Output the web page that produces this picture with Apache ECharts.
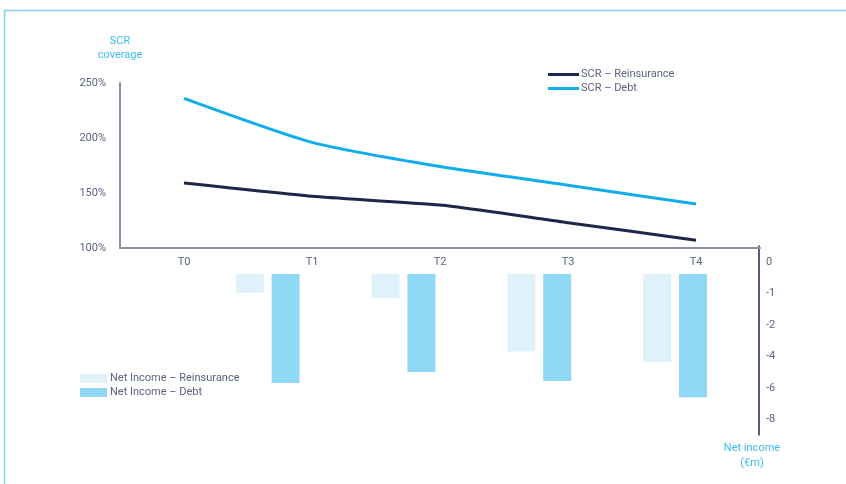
<!DOCTYPE html>
<html><head><meta charset="utf-8">
<script src="https://cdn.jsdelivr.net/npm/echarts@6/dist/echarts.min.js"></script>
<style>html,body{margin:0;padding:0;background:#fff}#c{width:846px;height:484px}</style>
</head><body><div id="c"></div>
<script>
const categories = ['T0', 'T1', 'T2', 'T3', 'T4'];
const scrReinsurance = [159, 147, 139, 123, 107];
const scrDebt = [236, 196, 174, 157, 140];
const niReinsurance = [null, -1.05, -1.35, -4.3, -4.9];
const niDebt = [null, -6.05, -5.45, -5.95, -6.85];
const rightTickLabels = ['0', '-1', '-2', '-4', '-6', '-8'];

const FONT = 'Roboto, "Liberation Sans", Arial, sans-serif';
const FS = 11;
const TXT = '#5a6480';
const NAVY = '#1b2849';
const BLUE = '#14adeb';
const BAR_R = '#dff2fa';
const BAR_D = '#8fd8f6';
const TITLE = '#3cbcf0';

const chart = echarts.init(document.getElementById('c'));
chart.setOption({
  animation: false,
  backgroundColor: '#fff',
  textStyle: { fontFamily: FONT },
  graphic: [
    { type: 'line', shape: { x1: 4, y1: 10.5, x2: 846, y2: 10.5 }, style: { stroke: '#7fd0f2', lineWidth: 1.5 } },
    { type: 'line', shape: { x1: 4.5, y1: 10, x2: 4.5, y2: 484 }, style: { stroke: '#7fd0f2', lineWidth: 1.5 } },
    { type: 'text', x: 120, y: 34, style: { text: 'SCR\ncoverage', fill: TITLE, font: FS + 'px ' + FONT, align: 'center', lineHeight: 14 } },
    { type: 'text', x: 752, y: 441, style: { text: 'Net income\n(€m)', fill: TITLE, font: FS + 'px ' + FONT, align: 'center', lineHeight: 15 } }
  ],
  legend: [
    { data: ['SCR – Reinsurance', 'SCR – Debt'], orient: 'vertical', left: 548, top: 69, padding: 0, itemWidth: 31, itemHeight: 3, itemGap: 3, icon: 'rect',
      textStyle: { color: TXT, fontSize: FS, fontFamily: FONT, padding: [0, 0, 0, -3] } },
    { data: ['Net Income – Reinsurance', 'Net Income – Debt'], orient: 'vertical', left: 80, top: 373, padding: 0, itemWidth: 27, itemHeight: 9, itemGap: 3, icon: 'rect',
      textStyle: { color: TXT, fontSize: FS, fontFamily: FONT, padding: [0, 0, 0, -2] } }
  ],
  grid: [
    { left: 120, right: 86, top: 83, height: 165 },
    { left: 64, right: 103, top: 274, height: 162 },
    { left: 120, right: 87, top: 246, height: 189 }
  ],
  xAxis: [
    { type: 'category', gridIndex: 0, data: categories,
      axisLine: { lineStyle: { color: '#8a93a6', width: 2 } }, axisTick: { show: false },
      axisLabel: { color: TXT, fontSize: FS, fontFamily: FONT, margin: 9 } },
    { type: 'category', gridIndex: 1, data: categories, show: false },
    { type: 'value', gridIndex: 2, show: false }
  ],
  yAxis: [
    { type: 'value', gridIndex: 0, min: 100, max: 250, interval: 50,
      axisLine: { show: true, lineStyle: { color: '#8a93a6', width: 2 } }, axisTick: { show: false },
      splitLine: { show: false },
      axisLabel: { color: TXT, fontSize: FS, fontFamily: FONT, margin: 14, formatter: '{value}%' } },
    { type: 'value', gridIndex: 1, min: -9, max: 0, show: false },
    { type: 'category', gridIndex: 2, position: 'right', inverse: true, data: rightTickLabels,
      axisLine: { show: true, onZero: false, lineStyle: { color: NAVY, width: 1.5 } }, axisTick: { show: false },
      axisLabel: { color: TXT, fontSize: FS, fontFamily: FONT, margin: 7, align: 'left' } }
  ],
  series: [
    { name: 'SCR – Reinsurance', type: 'line', xAxisIndex: 0, yAxisIndex: 0, data: scrReinsurance,
      showSymbol: false, smooth: 0.2, lineStyle: { color: NAVY, width: 3 }, itemStyle: { color: NAVY } },
    { name: 'SCR – Debt', type: 'line', xAxisIndex: 0, yAxisIndex: 0, data: scrDebt,
      showSymbol: false, smooth: 0.2, lineStyle: { color: BLUE, width: 3 }, itemStyle: { color: BLUE } },
    { name: 'Net Income – Reinsurance', type: 'bar', xAxisIndex: 1, yAxisIndex: 1, data: niReinsurance,
      barWidth: 28, barGap: '28%', itemStyle: { color: BAR_R } },
    { name: 'Net Income – Debt', type: 'bar', xAxisIndex: 1, yAxisIndex: 1, data: niDebt,
      barWidth: 28, barGap: '28%', itemStyle: { color: BAR_D } }
  ]
});
</script></body></html>
